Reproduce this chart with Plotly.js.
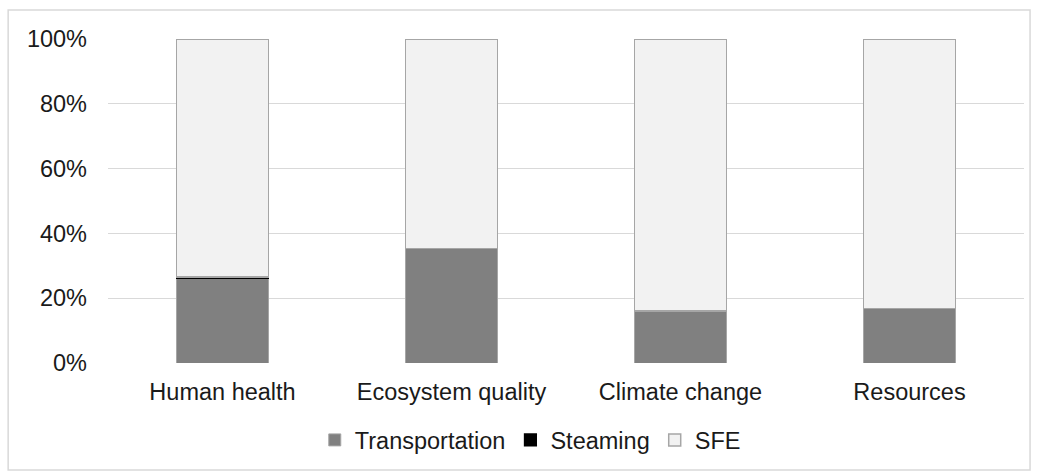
<!DOCTYPE html>
<html><head><meta charset="utf-8">
<script src="https://cdn.plot.ly/plotly-3.0.1.min.js"></script>
<style>html,body{margin:0;padding:0;background:#fff}#c{width:1040px;height:474px}</style>
</head><body><div id="c"></div>
<script>
const categories = ["Human health", "Ecosystem quality", "Climate change", "Resources"];
const transportation = [26.1, 35.4, 16.0, 16.8];
const steaming = [0.5, 0, 0, 0];
const sfe = [73.4, 64.6, 84.0, 83.2];
const yTickVals = [0, 20, 40, 60, 80, 100];
const yTickText = ["0%", "20%", "40%", "60%", "80%", "100%"];

const font = {family: "Liberation Sans, Arial, sans-serif", size: 23.5, color: "#1a1a1a"};
const traces = [
  {type: "bar", name: "Transportation", x: categories, y: transportation, width: 0.4,
   marker: {color: "#808080", line: {color: "#a6a6a6", width: 1}}},
  {type: "bar", name: "Steaming", x: categories, y: steaming, width: 0.4,
   marker: {color: "#000000", line: {color: "#000000", width: 1.2}}},
  {type: "bar", name: "SFE", x: categories, y: sfe, width: 0.4,
   marker: {color: "#f2f2f2", line: {color: "#a6a6a6", width: 1.5}}}
];
const layout = {
  width: 1040, height: 474, barmode: "stack",
  margin: {l: 108, r: 16, t: 39, b: 111},
  paper_bgcolor: "#fff", plot_bgcolor: "#fff", font: font,
  showlegend: true,
  legend: {orientation: "h", x: 0.461, xanchor: "center", y: -0.238, yanchor: "middle",
           font: font, traceorder: "normal", itemwidth: 30},
  xaxis: {showgrid: false, zeroline: false, showline: false, ticks: "", tickfont: font,
          ticklabelstandoff: 12, fixedrange: true},
  yaxis: {range: [0, 100], tickvals: yTickVals, ticktext: yTickText, showgrid: true,
          gridcolor: "#d9d9d9", gridwidth: 1.3, zeroline: false, showline: false, ticks: "",
          tickfont: font, ticklabelstandoff: 20, fixedrange: true},
  shapes: [{type: "rect", xref: "paper", yref: "paper", x0: -0.109, x1: 1.0066, y0: -0.330, y1: 1.0895,
            line: {color: "#d9d9d9", width: 1.5}, fillcolor: "rgba(0,0,0,0)", layer: "below"}]
};
Plotly.newPlot("c", traces, layout, {displayModeBar: false, staticPlot: true});
</script></body></html>
